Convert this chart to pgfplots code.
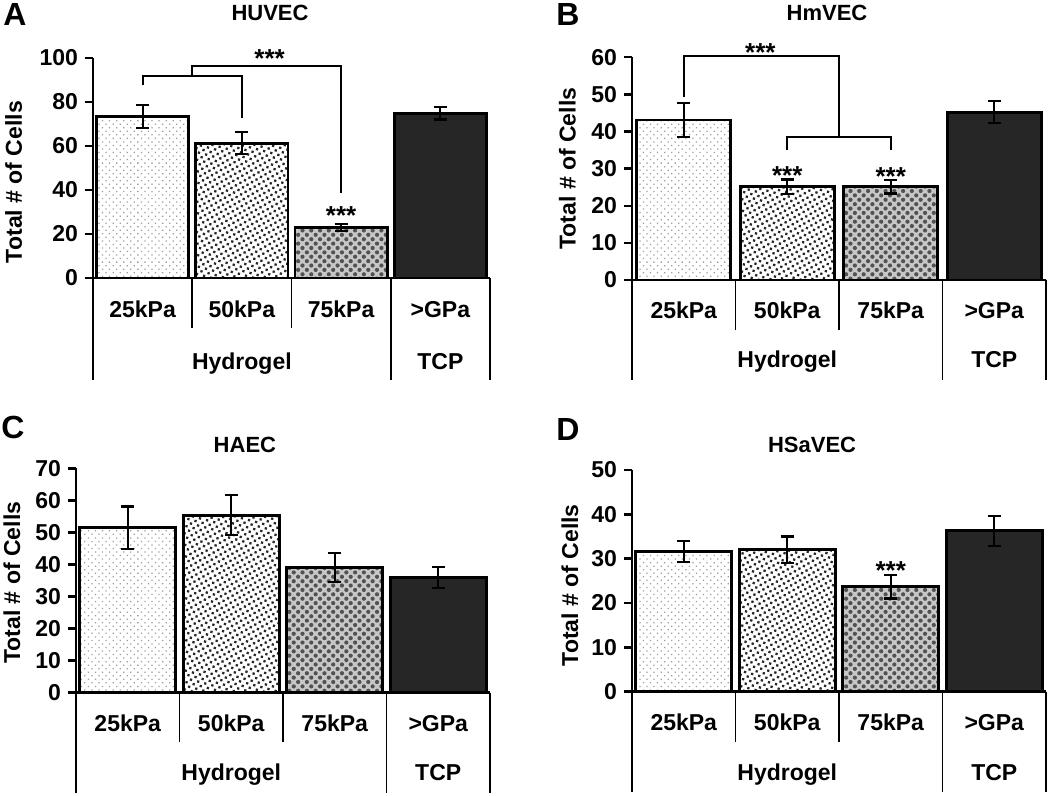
\documentclass[border=0pt]{standalone}
\usepackage{pgfplots}
\pgfplotsset{compat=1.18}
\usepackage{fontspec}
\setmainfont{Liberation Sans}
\usetikzlibrary{patterns.meta}

\newcommand{\lblfont}{\bfseries\fontsize{11.5}{12}\selectfont}
\tikzset{
  tbl/.style={line width=0.8pt, black},
  stars/.style={anchor=base, font=\bfseries\fontsize{13}{13}\selectfont},
  grp/.style={anchor=base, font=\lblfont},
}
\newcommand{\tline}[2]{\draw[tbl] (axis cs:#1,0) -- ([yshift=-#2]axis cs:#1,0);}
\pgfplotsset{
  panel/.style={
    scale only axis, anchor=south west,
    axis x line*=bottom, axis y line*=left,
    axis line style={line width=1.2pt},
    xmin=-0.5, xmax=3.5, ymin=0,
    xtick={0,1,2,3}, xticklabels={25kPa,50kPa,75kPa,>GPa},
    x tick style={draw=none},
    y tick style={line width=1.2pt, black},
    tick align=outside, major tick length=4pt,
    ytick pos=left,
    tick label style={font=\lblfont},
    /pgf/number format/assume math mode=true,
    xticklabel style={anchor=base, yshift=-15.5pt},
    ylabel={Total \# of Cells},
    ylabel style={font=\lblfont, anchor=center},
    every axis title shift=0pt,
    title style={font=\bfseries\fontsize{11}{12}\selectfont, anchor=center},
    clip=false,
  },
  errb/.style={error bars/y dir=both, error bars/y explicit,
    error bars/error bar style={line width=1.1pt, black},
    error bars/error mark options={rotate=90, mark size=3.3pt, line width=1.1pt, black}},
  b25/.style={ybar, bar shift=0pt, draw=black, line width=1.4pt, fill=white,
    postaction={pattern={Dots[radius=0.45pt,distance=2.5pt,angle=45]}, pattern color=black!38}, errb},
  b50/.style={ybar, bar shift=0pt, draw=black, line width=1.4pt, fill=white,
    postaction={pattern={Dots[radius=0.8pt,distance=2.6pt,angle=30]}, pattern color=black!85}, errb},
  b75/.style={ybar, bar shift=0pt, draw=black, line width=1.4pt, fill=black!22,
    postaction={pattern={Dots[radius=1.05pt,distance=3.1pt,angle=45]}, pattern color=black!68}, errb},
  bgp/.style={ybar, bar shift=0pt, draw=black, line width=1.4pt, fill=black!85, errb},
}

\begin{document}
\begin{tikzpicture}
\useasboundingbox (0,0) rectangle (525pt,398pt);

% panel letters
\node[font=\bfseries\fontsize{16}{16}\selectfont] at (7.5pt,390.5pt) {A};
\node[font=\bfseries\fontsize{16}{16}\selectfont] at (284pt,390.5pt) {B};
\node[font=\bfseries\fontsize{16}{16}\selectfont] at (6.5pt,184.5pt) {C};
\node[font=\bfseries\fontsize{16}{16}\selectfont] at (284pt,183pt) {D};

% ---------------- A
\begin{axis}[panel, at={(46.5pt,259pt)}, width=198.5pt, height=110pt,
  ymax=100, ytick={0,20,...,100},
  xticklabel style={yshift=-0.5pt},
  title={HUVEC}, title style={at={(axis description cs:0.446,1.2045)}},
  ylabel style={at={(axis description cs:-0.2,0.436)}}]
\addplot[bar width=0.93, b25] coordinates {(0,73.3) +- (0,5.3)};
\addplot[bar width=0.93, b50] coordinates {(1,61.2) +- (0,5.0)};
\addplot[bar width=0.93, b75] coordinates {(2,22.9) +- (0,1.7)};
\addplot[bar width=0.93, bgp] coordinates {(3,74.8) +- (0,2.8)};
\draw[line width=1.1pt] (axis cs:0,87.7) -- (axis cs:0,91.8) -- (axis cs:1,91.8) -- (axis cs:1,72.7);
\draw[line width=1.1pt] (axis cs:0.5,91.8) -- (axis cs:0.5,96.5) -- (axis cs:2,96.5) -- (axis cs:2,38.6);
\node[stars] at (axis cs:1.28,95.5) {***};
\node[stars] at (axis cs:2,24.5) {***};
\tline{-0.5}{51pt}\tline{0.5}{25pt}\tline{1.5}{25pt}\tline{2.5}{51pt}\tline{3.5}{51pt}
\node[grp] at ([yshift=-46pt]axis cs:1,0) {Hydrogel};
\node[grp] at ([yshift=-46pt]axis cs:3,0) {TCP};
\end{axis}

% ---------------- B
\begin{axis}[panel, at={(316pt,258pt)}, width=207pt, height=111.35pt,
  ymax=60, ytick={0,10,...,60},
  title={HmVEC}, title style={at={(axis description cs:0.471,1.199)}},
  ylabel style={at={(axis description cs:-0.156,0.5)}}]
\addplot[bar width=0.91, b25] coordinates {(0,43.1) +- (0,4.5)};
\addplot[bar width=0.91, b50] coordinates {(1,25.1) +- (0,2.0)};
\addplot[bar width=0.91, b75] coordinates {(2,25.1) +- (0,1.8)};
\addplot[bar width=0.91, bgp] coordinates {(3,45.2) +- (0,3.0)};
\draw[line width=1.1pt] (axis cs:0,49.4) -- (axis cs:0,60.4) -- (axis cs:1.5,60.4) -- (axis cs:1.5,38.6);
\draw[line width=1.1pt] (axis cs:1,35) -- (axis cs:1,38.6) -- (axis cs:2,38.6) -- (axis cs:2,35);
\node[stars] at (axis cs:0.74,58.8) {***};
\node[stars] at (axis cs:1,25.8) {***};
\node[stars] at (axis cs:2,25.4) {***};
\tline{-0.5}{50pt}\tline{0.5}{25pt}\tline{1.5}{25pt}\tline{2.5}{50pt}\tline{3.5}{50pt}
\node[grp] at ([yshift=-44pt]axis cs:1,0) {Hydrogel};
\node[grp] at ([yshift=-44pt]axis cs:3,0) {TCP};
\end{axis}

% ---------------- C
\begin{axis}[panel, at={(38pt,51.65pt)}, width=207pt, height=112.2pt,
  ymax=70, ytick={0,10,...,70},
  title={HAEC}, title style={at={(axis description cs:0.408,1.104)}},
  ylabel style={at={(axis description cs:-0.155,0.49)}}]
\addplot[bar width=0.93, b25] coordinates {(0,51.5) +- (0,6.6)};
\addplot[bar width=0.93, b50] coordinates {(1,55.4) +- (0,6.3)};
\addplot[bar width=0.93, b75] coordinates {(2,39.0) +- (0,4.5)};
\addplot[bar width=0.93, bgp] coordinates {(3,35.9) +- (0,3.2)};
\tline{-0.5}{50pt}\tline{0.5}{24.5pt}\tline{1.5}{24.5pt}\tline{2.5}{50pt}\tline{3.5}{50pt}
\node[grp] at ([yshift=-44pt]axis cs:1,0) {Hydrogel};
\node[grp] at ([yshift=-44pt]axis cs:3,0) {TCP};
\end{axis}

% ---------------- D
\begin{axis}[panel, at={(316pt,52.15pt)}, width=207pt, height=110.85pt,
  ymax=50, ytick={0,10,...,50},
  title={HSaVEC}, title style={at={(axis description cs:0.435,1.113)}},
  ylabel style={at={(axis description cs:-0.15,0.48)}}]
\addplot[bar width=0.93, b25] coordinates {(0,31.6) +- (0,2.4)};
\addplot[bar width=0.93, b50] coordinates {(1,32.0) +- (0,3.0)};
\addplot[bar width=0.93, b75] coordinates {(2,23.7) +- (0,2.7)};
\addplot[bar width=0.93, bgp] coordinates {(3,36.3) +- (0,3.4)};
\node[stars] at (axis cs:2,25.4) {***};
\tline{-0.5}{50pt}\tline{0.5}{25pt}\tline{1.5}{25pt}\tline{2.5}{50pt}\tline{3.5}{50pt}
\node[grp] at ([yshift=-44.5pt]axis cs:1,0) {Hydrogel};
\node[grp] at ([yshift=-44.5pt]axis cs:3,0) {TCP};
\end{axis}
\end{tikzpicture}
\end{document}
